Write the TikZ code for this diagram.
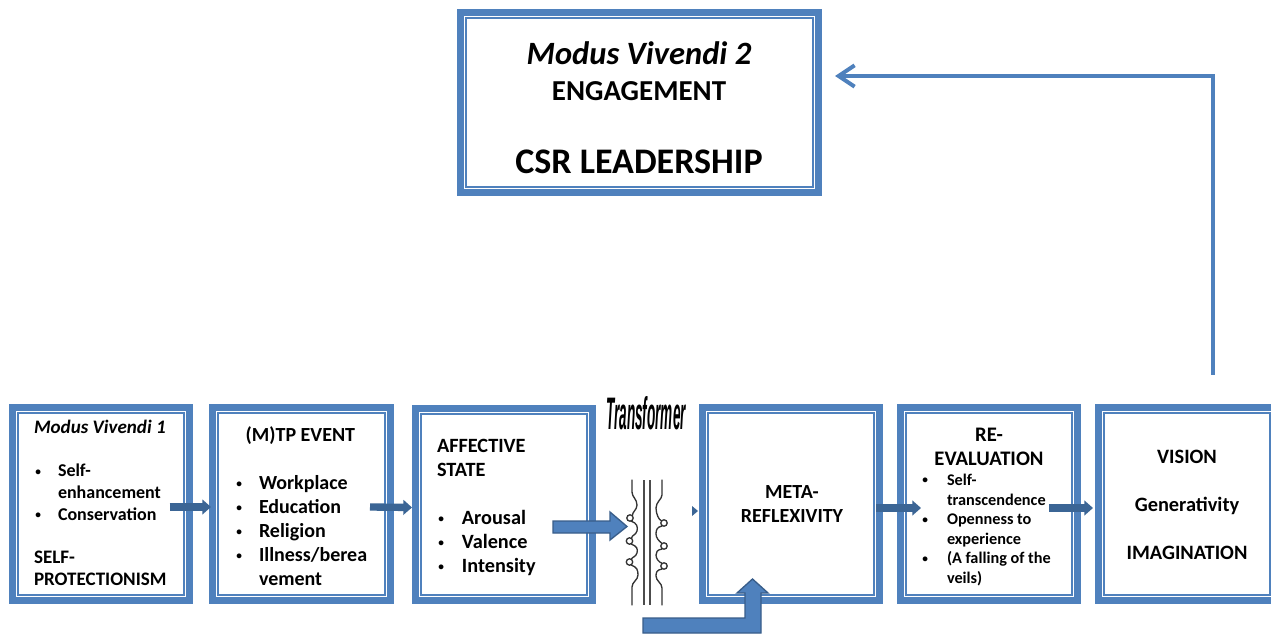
\documentclass[tikz,border=0pt]{standalone}
\usepackage{fontspec}
\setmainfont{Carlito}
\newfontfamily\trfont{Liberation Sans}
\usetikzlibrary{arrows.meta,calc}
\definecolor{band}{HTML}{4F81BD}
\definecolor{darkb}{HTML}{3B6595}
\definecolor{edgeb}{HTML}{385D8A}
\newcommand{\itm}[1]{\makebox[#1][l]{\hspace*{1pt}\raisebox{0.2ex}{\fontsize{8.5pt}{9pt}\selectfont\textbullet}}}
\newcommand{\hdA}{\fontsize{14.3pt}{16.3pt}\selectfont}
\tikzset{
  x=0.75pt,y=-0.75pt,
  outerband/.style={draw=band,line width=5.25pt,fill=white,rectangle,inner sep=0pt,outer sep=0pt},
  innerline/.style={draw=band,line width=1.1pt},
  txt/.style={inner sep=0pt,outer sep=0pt,text=black},
  smallarrow/.style={draw=darkb,line width=5.5pt,-{Triangle[length=6.5pt,width=11pt,fill=darkb]}},
  bigarrow/.style={draw=edgeb,line width=1pt,fill=band},
  feedback/.style={draw=band,line width=3pt,-{Straight Barb[length=12pt,width=16pt,line width=3pt]}},
  wire/.style={draw=black!80,line width=1pt,line cap=round},
}
\newcommand{\dframe}[5]{%
  \node[outerband,minimum width=#4*0.75pt,minimum height=#5*0.75pt] (#1) at (#2,#3) {};
  \draw[innerline] ([shift={(5.6,-5.6)}]#1.south west) rectangle ([shift={(-5.6,5.6)}]#1.north east);
}
\begin{document}
\begin{tikzpicture}
\clip (0,0) rectangle (1271,634);
\fill[white] (0,0) rectangle (1271,634);
\dframe{top}{639.5}{102.5}{358}{180}
\dframe{b1}{101}{504}{177}{193}
\dframe{b2}{301.5}{504}{178}{193}
\dframe{b3}{504}{504.5}{177}{192}
\dframe{b4}{791}{504}{177}{193}
\dframe{b5}{989}{504}{177}{193}
\dframe{b6}{1187}{504}{177}{193}
% top text
\node[txt,align=center,anchor=north] (tt) at (639,42) {%
  {\fontsize{24.4pt}{27pt}\selectfont\bfseries\itshape Modus Vivendi 2}\\[11.5pt]
  {\fontsize{21.7pt}{24pt}\selectfont\bfseries ENGAGEMENT}\\[35.5pt]
  {\fontsize{27pt}{32pt}\selectfont\bfseries CSR LEADERSHIP}};
% box 1
\node[txt,align=left,anchor=north west,font=\fontsize{13.5pt}{16.3pt}\selectfont\bfseries] (t1) at (34,420) {%
  {\hdA\textit{Modus Vivendi 1}}\\[16.3pt]
  \itm{18pt}Self-\\
  \hspace*{18pt}enhancement\\
  \itm{18pt}Conservation\\[16.3pt]
  {\hdA SELF-}\\
  {\hdA PROTECTIONISM}};
% box 2
\node[txt,align=left,anchor=north west,font=\fontsize{15pt}{18pt}\selectfont\bfseries] (t2) at (235,426.5) {%
  \hspace*{8pt}(M)TP EVENT\\[18pt]
  \itm{18pt}Workplace\\
  \itm{18pt}Education\\
  \itm{18pt}Religion\\
  \itm{18pt}Illness/berea\\
  \hspace*{18pt}vement};
% box 3
\node[txt,align=left,anchor=north west,font=\fontsize{15.2pt}{18pt}\selectfont\bfseries] (t3) at (437,439) {%
  AFFECTIVE\\
  STATE\\[18pt]
  \itm{18.7pt}Arousal\\
  \itm{18.7pt}Valence\\
  \itm{18.7pt}Intensity};
% box 4
\node[txt,align=center,font=\fontsize{15pt}{18pt}\selectfont\bfseries] (t4) at (792,504) {META-\\REFLEXIVITY};
% box 5
\node[txt,align=center,anchor=north,font=\fontsize{15.5pt}{18pt}\selectfont\bfseries] (t5a) at (989,428) {RE-\\EVALUATION};
\node[txt,align=left,anchor=north west,font=\fontsize{12.2pt}{14.7pt}\selectfont\bfseries] (t5b) at (921,474) {%
  \itm{19.5pt}Self-\\
  \hspace*{19.5pt}transcendence\\
  \itm{19.5pt}Openness to\\
  \hspace*{19.5pt}experience\\
  \itm{19.5pt}(A falling of the\\
  \hspace*{19.5pt}veils)};
% box 6
\node[txt,align=center,font=\fontsize{15.3pt}{18pt}\selectfont\bfseries] (t6) at (1187,505) {VISION\\[18pt]Generativity\\[18pt]IMAGINATION};
% small connectors
\draw[smallarrow] ([shift={(-20,3)}]b1.east) -- ([shift={(-1.5,3)}]b2.west);
\draw[smallarrow] ([shift={(-20.5,3)}]b2.east) -- ([shift={(-3.5,3)}]b3.west);
\draw[smallarrow] ([shift={(-3.5,4)}]b4.east) -- ([shift={(20.5,4)}]b5.west);
\draw[smallarrow] ([shift={(-28.5,4)}]b5.east) -- ([shift={(-5.5,4)}]b6.west);
% feedback
\coordinate (fbstart) at (1213,375);
\coordinate (fbend) at (835,76);
\draw[feedback] (fbstart) |- (fbend);
% transformer
\node[txt,font=\trfont\bfseries\itshape\fontsize{18pt}{20pt}\selectfont,xscale=0.565,yscale=1.9,transform shape] (trlabel) at (646,413) {Transformer};
\draw[line width=0.9pt,draw=black!70] (644,480) -- (644,605) (650,480) -- (650,605);
\draw[wire] (632,480) -- (632,492) .. controls (632,497) and (637,499) .. (637,505)
  .. controls (637,510) and (632,512) .. (632.5,515.5);
\draw[wire] (631,521) .. controls (637,523) and (638,527) .. (637,531) .. controls (636,535) and (632,535) .. (631.5,538);
\draw[wire] (631,544) .. controls (637,546) and (638,549) .. (637,553) .. controls (636,557) and (632,557) .. (631.5,559);
\draw[wire] (631,565) .. controls (637,567) and (638,570) .. (638,575) .. controls (638,580) and (632,582) .. (632,587) -- (632,605);
\draw[wire] (662,480) -- (662,495) .. controls (662,499) and (656,502) .. (656,508)
  .. controls (656,514) and (659,520) .. (661,520.5);
\draw[wire] (662,526) .. controls (657,527) and (656,530) .. (656,534) .. controls (656,538) and (659,541) .. (661.5,543);
\draw[wire] (662,549) .. controls (657,550) and (656,552) .. (656,555) .. controls (656,559) and (659,562) .. (661.5,563);
\draw[wire] (662,569) .. controls (657,570) and (656,572) .. (656,576) .. controls (656,581) and (662,583) .. (662,588) -- (662,605);
\draw[wire] (630,518) circle[radius=3.2];
\draw[wire] (629.5,541) circle[radius=3.2];
\draw[wire] (629.5,562) circle[radius=3.2];
\draw[wire] (664,523) circle[radius=3.2];
\draw[wire] (664,546) circle[radius=3.2];
\draw[wire] (664,566) circle[radius=3.2];
% big arrows
\path[bigarrow] (553,521) -- (610,521) -- (610,512) -- (627,526.5) -- (610,540) -- (610,533) -- (553,533) -- cycle;
\path[bigarrow] (643,618) -- (745,618) -- (745,593) -- (737,593) -- (752.5,579) -- (768,593) -- (761,593) -- (761,633) -- (643,633) -- cycle;
\fill[darkb] (692,506) -- (698,511) -- (692,516) -- cycle;
\end{tikzpicture}
\end{document}
